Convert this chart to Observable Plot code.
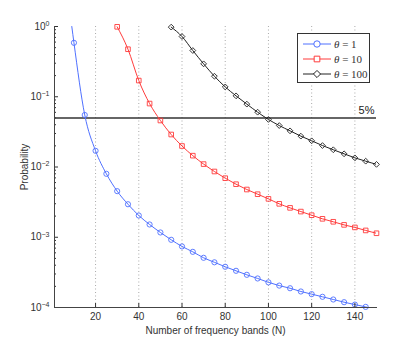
<!DOCTYPE html>
<html><head><meta charset="utf-8">
<script src="https://cdn.jsdelivr.net/npm/d3@7"></script>
<script src="https://cdn.jsdelivr.net/npm/@observablehq/plot@0.6"></script>
<style>
body{margin:0;background:#fff;}
#wrap{position:relative;width:415px;height:346px;font-family:"Liberation Sans",Arial,sans-serif;}
#legend{position:absolute;left:297px;top:33px;width:73px;height:50px;border:1px solid #333;background:#fff;box-sizing:border-box;padding-top:2px;}
.row{display:flex;align-items:center;height:15.3px;}
.row svg{margin-left:4px;display:block;}
.row span{font-family:"Liberation Serif","DejaVu Serif",serif;font-size:11px;font-weight:normal;margin-left:2px;color:#333;white-space:nowrap;}
</style></head><body><div id="wrap"><div id="legend"></div></div>
<script>
// ---- data ----
const thetaLabels = ["1", "10", "100"];
const seriesColors = ["#4f70ff", "#ff3b3b", "#222222"];
const seriesSymbols = ["circle", "square", "diamond2"];

const nBlue = [10,15,20,25,30,35,40,45,50,55,60,65,70,75,80,85,90,95,100,105,110,115,120,125,130,135,140,145];
const pBlue = [0.586,0.055,0.017,0.0080,0.00453,0.00295,0.00204,0.00152,0.00117,0.00092,0.00074,0.00062,0.00051,0.00044,0.00038,0.000333,0.000292,0.000259,0.000228,0.000205,0.000188,0.000169,0.000155,0.000142,0.000130,0.000119,0.000110,0.000102];
const nRed = [30,35,40,45,50,55,60,65,70,75,80,85,90,95,100,105,110,115,120,125,130,135,140,145,150];
const pRed = [0.99,0.475,0.170,0.080,0.0459,0.0290,0.0199,0.0145,0.0110,0.00863,0.00693,0.00569,0.00478,0.0041,0.00352,0.00299,0.00262,0.00232,0.00206,0.00183,0.00166,0.00150,0.00138,0.00125,0.00114];
const nBlack = [55,60,65,70,75,80,85,90,95,100,105,110,115,120,125,130,135,140,145,150];
const pBlack = [0.98,0.72,0.455,0.294,0.196,0.138,0.103,0.0785,0.0603,0.0475,0.0389,0.0327,0.0275,0.0236,0.0202,0.0176,0.0154,0.0135,0.0121,0.0109];
// unmarked ends of the blue curve (it runs out of the plot at both ends)
const blueLineExtraN = [9, 150];
const blueLineExtraP = [1.0, 0.000093];

const xTicks = [20, 40, 60, 80, 100, 120, 140];
const yTicks = [1e-4, 1e-3, 1e-2, 1e-1, 1];
const thresholdValues = [0.05];
const thresholdLabels = ["5%"];
const xLabel = "Number of frequency bands (N)";
const yLabel = "Probability";

// ---- tables ----
const seriesN = [nBlue, nRed, nBlack];
const seriesP = [pBlue, pRed, pBlack];
const markers = [];
seriesN.forEach((ns, i) => ns.forEach((n, j) => markers.push({N: n, P: seriesP[i][j], theta: thetaLabels[i]})));
const lines = markers.slice();
blueLineExtraN.forEach((n, j) => lines.push({N: n, P: blueLineExtraP[j], theta: thetaLabels[0]}));
lines.sort((a, b) => a.N - b.N);
const thresholds = thresholdValues.map((v, i) => ({value: v, label: thresholdLabels[i]}));
const yMinor = [];
for (let e = -4; e < 0; e++) for (let k = 2; k <= 9; k++) yMinor.push(k * Math.pow(10, e));

const chart = Plot.plot({
  width: 415, height: 346,
  marginLeft: 54, marginRight: 39, marginTop: 26, marginBottom: 39,
  x: {domain: [1, 150]},
  y: {type: "log", domain: [1e-4, 1]},
  color: {domain: thetaLabels, range: seriesColors},
  symbol: {domain: thetaLabels, range: seriesSymbols},
  style: {fontFamily: "'Liberation Sans', Arial, sans-serif", fontSize: "10px", color: "#333", background: "white"},
  marks: [
    Plot.gridX(xTicks, {stroke: "#aaa", strokeOpacity: 1, strokeDasharray: "1,2.5"}),
    Plot.ruleY(thresholds, {y: "value", stroke: "#333", strokeWidth: 1.5}),
    Plot.text(thresholds, {y: "value", text: "label", frameAnchor: "right", textAnchor: "end", dx: -2, dy: -7, fontSize: 11, fill: "#222"}),
    Plot.line(lines, {x: "N", y: "P", z: "theta", stroke: "theta", strokeWidth: 1, curve: "monotone-x", clip: true}),
    Plot.dot(markers, {x: "N", y: "P", stroke: "theta", symbol: "theta", fill: "none", r: 2.6, strokeWidth: 0.9}),
    Plot.axisX({ticks: xTicks, tickSize: -4, tickPadding: 9, label: xLabel, labelAnchor: "center", labelOffset: 26, labelArrow: "none"}),
    Plot.axisY({ticks: yTicks, tickSize: -4, tickPadding: 9, tickFormat: d => "10^" + (Math.round(Math.log10(d)) < 0 ? "\u2212" + (-Math.round(Math.log10(d))) : Math.round(Math.log10(d))), label: yLabel, labelAnchor: "center", labelOffset: 34, labelArrow: "none"}),
    Plot.axisY({ticks: yMinor, tickSize: -2, tickFormat: () => "", label: null}),
    Plot.frame({anchor: "left", stroke: "#444"}),
    Plot.frame({anchor: "bottom", stroke: "#444"})
  ]
});

// superscript exponents for the log tick labels
const svgns = "http://www.w3.org/2000/svg";
chart.querySelectorAll("text").forEach(t => {
  const m = t.textContent.match(/^10\^(.+)$/);
  if (m) {
    t.textContent = "10";
    const ts = document.createElementNS(svgns, "tspan");
    ts.setAttribute("dy", "-0.55em");
    ts.setAttribute("font-size", "7");
    ts.textContent = m[1];
    t.appendChild(ts);
  }
});
document.getElementById("wrap").prepend(chart);

// legend
const legend = document.getElementById("legend");
thetaLabels.forEach((lab, i) => {
  const row = document.createElement("div");
  row.className = "row";
  const s = d3.create("svg").attr("width", 30).attr("height", 12);
  s.append("line").attr("x1", 1).attr("x2", 29).attr("y1", 6).attr("y2", 6).attr("stroke", seriesColors[i]);
  const sym = {circle: d3.symbolCircle, square: d3.symbolSquare, diamond2: d3.symbolDiamond2}[seriesSymbols[i]];
  s.append("path").attr("transform", "translate(15,6)").attr("d", d3.symbol(sym, Math.PI * 3.2 * 3.2)()).attr("fill", "white").attr("stroke", seriesColors[i]);
  row.appendChild(s.node());
  const sp = document.createElement("span");
  sp.innerHTML = "<i>\u03b8</i> = " + lab;
  row.appendChild(sp);
  legend.appendChild(row);
});
</script>
</body></html>
